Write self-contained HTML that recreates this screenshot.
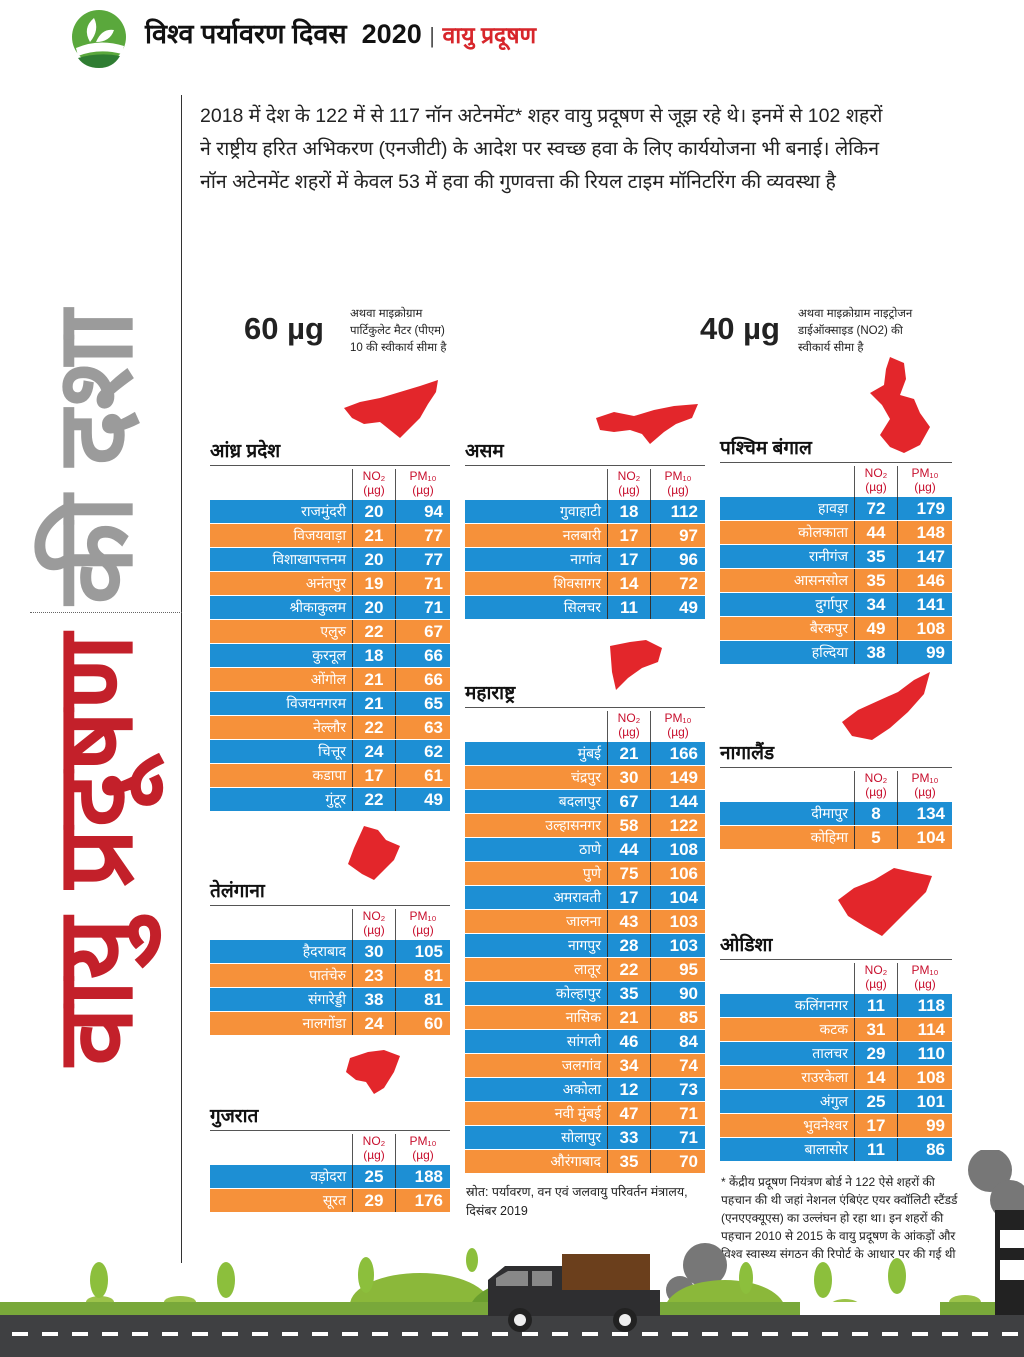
<!DOCTYPE html>
<html><head><meta charset="utf-8">
<style>
*{margin:0;padding:0;box-sizing:border-box}
body{width:1024px;height:1357px;position:relative;background:#fff;font-family:"Liberation Sans",sans-serif;overflow:hidden;color:#222}
.a{position:absolute}
.t{position:absolute;width:240px}
.ttl{height:26px;font-weight:bold;font-size:19px;line-height:24px;border-bottom:1px solid #555;color:#111}
.hd{height:34px;display:flex;color:#c8102e;font-size:12px;line-height:14px;text-align:center;padding-top:3px}
.hd div{border-left:1px solid #555}
.hd div:first-child{border-left:none}
.r{height:23px;margin-bottom:1px;display:flex;color:#fff;font-weight:bold}
.r div{line-height:23px;border-left:1px solid #333}
.r div:first-child{border-left:none;text-align:right;padding-right:6px;font-size:14px;font-weight:normal}
.r div:nth-child(2){text-align:center;font-size:17px}
.r div:nth-child(3){text-align:right;padding-right:7px;font-size:17px}
.b{background:#1d8fd4}.o{background:#f6913a}
.c1{width:142px}.c2{width:43px}.c3{width:55px}
.w .c1{width:134px}.w .c3{width:55px}.w{width:232px}
.map{position:absolute;fill:#e3262b}
</style></head><body>

<!-- header -->
<svg class="a" style="left:68px;top:8px" width="62" height="62" viewBox="0 0 62 62">
<circle cx="31" cy="29" r="27" fill="#5aa83c"/>
<path d="M8 40 Q31 30 56 38 L54 46 Q31 40 10 48Z" fill="#fff"/>
<path d="M10 50 Q31 44 52 48 Q45 60 31 60 Q17 60 10 50Z" fill="#2f7d32"/>
<path d="M22 34 Q14 20 26 10 Q32 22 22 34Z" fill="#fff"/>
<path d="M28 34 Q34 20 46 22 Q42 34 28 34Z" fill="#fff"/>
</svg>
<div class="a" style="left:145px;top:14px;font-size:27px;font-weight:bold;color:#111;white-space:nowrap">विश्व पर्यावरण दिवस&nbsp; 2020 <span style="font-weight:normal;color:#555;font-size:22px">|</span> <span style="color:#d7262b;font-size:23px">वायु प्रदूषण</span></div>

<div class="a" style="left:181px;top:95px;width:1px;height:1168px;background:#333"></div>
<div class="a" style="left:30px;top:612px;width:152px;border-top:1px dotted #666"></div>

<!-- vertical title -->
<div class="a" style="left:-355px;top:628px;width:900px;height:120px;transform:rotate(-90deg);transform-origin:center;font-size:106px;font-weight:bold;line-height:120px;white-space:nowrap;text-align:center"><span style="color:#c3202a">वायु प्रदूषण</span> <span style="color:#9b9b9b">की दशा</span></div>

<div class="a" style="left:200px;top:100px;width:800px;font-size:19.5px;line-height:33px;color:#222;white-space:nowrap">2018 में देश के 122 में से 117 नॉन अटेनमेंट* शहर वायु प्रदूषण से जूझ रहे थे। इनमें से 102 शहरों<br>ने राष्ट्रीय हरित अभिकरण (एनजीटी) के आदेश पर स्वच्छ हवा के लिए कार्ययोजना भी बनाई। लेकिन<br>नॉन अटेनमेंट शहरों में केवल 53 में हवा की गुणवत्ता की रियल टाइम मॉनिटरिंग की व्यवस्था है</div>

<div class="a" style="left:244px;top:311px;font-size:31px;font-weight:bold">60 µg</div>
<div class="a" style="left:350px;top:306px;font-size:11.5px;line-height:17px;white-space:nowrap">अथवा माइक्रोग्राम<br>पार्टिकुलेट मैटर (पीएम)<br>10 की स्वीकार्य सीमा है</div>
<div class="a" style="left:700px;top:311px;font-size:31px;font-weight:bold">40 µg</div>
<div class="a" style="left:798px;top:306px;font-size:11.5px;line-height:17px;white-space:nowrap">अथवा माइक्रोग्राम नाइट्रोजन<br>डाईऑक्साइड (NO2) की<br>स्वीकार्य सीमा है</div>

<!-- maps -->
<svg class="map" style="left:340px;top:378px" width="100" height="62"><path d="M98 2 L80 8 L60 14 L40 20 L20 24 L4 30 L12 40 L24 46 L40 44 L50 52 L60 60 L70 50 L80 40 L88 26 L96 14Z"/></svg>
<svg class="map" style="left:594px;top:402px" width="108" height="44"><path d="M2 16 L20 10 L40 14 L60 8 L80 4 L104 2 L98 16 L82 22 L70 30 L56 42 L48 32 L36 28 L20 30 L6 28Z"/></svg>
<svg class="map" style="left:860px;top:355px" width="72" height="100"><path d="M30 2 L44 8 L46 24 L40 40 L54 44 L60 58 L70 72 L60 90 L44 98 L30 92 L20 80 L30 64 L22 50 L10 38 L24 30 L26 14Z"/></svg>
<svg class="map" style="left:606px;top:638px" width="60" height="54"><path d="M4 8 L24 4 L40 2 L56 10 L52 24 L36 30 L22 40 L10 52 L6 34Z"/></svg>
<svg class="map" style="left:344px;top:824px" width="58" height="58"><path d="M20 2 L34 6 L42 16 L56 22 L50 36 L40 46 L30 56 L18 50 L4 40 L10 24Z"/></svg>
<svg class="map" style="left:344px;top:1048px" width="58" height="48"><path d="M6 10 L24 4 L40 2 L56 8 L50 24 L40 40 L30 46 L22 34 L12 32 L2 24Z"/></svg>
<svg class="map" style="left:838px;top:670px" width="94" height="72"><path d="M92 2 L76 10 L60 22 L42 30 L20 40 L4 52 L14 66 L34 70 L52 58 L70 42 L86 24Z"/></svg>
<svg class="map" style="left:834px;top:866px" width="102" height="72"><path d="M60 2 L78 6 L98 10 L92 26 L78 40 L62 56 L48 70 L30 60 L14 50 L4 34 L20 22 L40 14Z"/></svg>

<!-- Andhra -->
<div class="t" style="left:210px;top:440px"><div class="ttl">आंध्र प्रदेश</div>
<div class="hd"><div class="c1"></div><div class="c2">NO₂<br>(µg)</div><div class="c3">PM₁₀<br>(µg)</div></div>
<div class="r b"><div class="c1">राजमुंदरी</div><div class="c2">20</div><div class="c3">94</div></div>
<div class="r o"><div class="c1">विजयवाड़ा</div><div class="c2">21</div><div class="c3">77</div></div>
<div class="r b"><div class="c1">विशाखापत्तनम</div><div class="c2">20</div><div class="c3">77</div></div>
<div class="r o"><div class="c1">अनंतपुर</div><div class="c2">19</div><div class="c3">71</div></div>
<div class="r b"><div class="c1">श्रीकाकुलम</div><div class="c2">20</div><div class="c3">71</div></div>
<div class="r o"><div class="c1">एलुरु</div><div class="c2">22</div><div class="c3">67</div></div>
<div class="r b"><div class="c1">कुरनूल</div><div class="c2">18</div><div class="c3">66</div></div>
<div class="r o"><div class="c1">ओंगोल</div><div class="c2">21</div><div class="c3">66</div></div>
<div class="r b"><div class="c1">विजयनगरम</div><div class="c2">21</div><div class="c3">65</div></div>
<div class="r o"><div class="c1">नेल्लौर</div><div class="c2">22</div><div class="c3">63</div></div>
<div class="r b"><div class="c1">चित्तूर</div><div class="c2">24</div><div class="c3">62</div></div>
<div class="r o"><div class="c1">कडापा</div><div class="c2">17</div><div class="c3">61</div></div>
<div class="r b"><div class="c1">गुंटूर</div><div class="c2">22</div><div class="c3">49</div></div>
</div>

<!-- Telangana -->
<div class="t" style="left:210px;top:880px"><div class="ttl">तेलंगाना</div>
<div class="hd"><div class="c1"></div><div class="c2">NO₂<br>(µg)</div><div class="c3">PM₁₀<br>(µg)</div></div>
<div class="r b"><div class="c1">हैदराबाद</div><div class="c2">30</div><div class="c3">105</div></div>
<div class="r o"><div class="c1">पातंचेरु</div><div class="c2">23</div><div class="c3">81</div></div>
<div class="r b"><div class="c1">संगारेड्डी</div><div class="c2">38</div><div class="c3">81</div></div>
<div class="r o"><div class="c1">नालगोंडा</div><div class="c2">24</div><div class="c3">60</div></div>
</div>

<!-- Gujarat -->
<div class="t" style="left:210px;top:1105px"><div class="ttl">गुजरात</div>
<div class="hd"><div class="c1"></div><div class="c2">NO₂<br>(µg)</div><div class="c3">PM₁₀<br>(µg)</div></div>
<div class="r b"><div class="c1">वड़ोदरा</div><div class="c2">25</div><div class="c3">188</div></div>
<div class="r o"><div class="c1">सूरत</div><div class="c2">29</div><div class="c3">176</div></div>
</div>

<!-- Assam -->
<div class="t" style="left:465px;top:440px"><div class="ttl">असम</div>
<div class="hd"><div class="c1"></div><div class="c2">NO₂<br>(µg)</div><div class="c3">PM₁₀<br>(µg)</div></div>
<div class="r b"><div class="c1">गुवाहाटी</div><div class="c2">18</div><div class="c3">112</div></div>
<div class="r o"><div class="c1">नलबारी</div><div class="c2">17</div><div class="c3">97</div></div>
<div class="r b"><div class="c1">नागांव</div><div class="c2">17</div><div class="c3">96</div></div>
<div class="r o"><div class="c1">शिवसागर</div><div class="c2">14</div><div class="c3">72</div></div>
<div class="r b"><div class="c1">सिलचर</div><div class="c2">11</div><div class="c3">49</div></div>
</div>

<!-- Maharashtra -->
<div class="t" style="left:465px;top:682px"><div class="ttl">महाराष्ट्र</div>
<div class="hd"><div class="c1"></div><div class="c2">NO₂<br>(µg)</div><div class="c3">PM₁₀<br>(µg)</div></div>
<div class="r b"><div class="c1">मुंबई</div><div class="c2">21</div><div class="c3">166</div></div>
<div class="r o"><div class="c1">चंद्रपुर</div><div class="c2">30</div><div class="c3">149</div></div>
<div class="r b"><div class="c1">बदलापुर</div><div class="c2">67</div><div class="c3">144</div></div>
<div class="r o"><div class="c1">उल्हासनगर</div><div class="c2">58</div><div class="c3">122</div></div>
<div class="r b"><div class="c1">ठाणे</div><div class="c2">44</div><div class="c3">108</div></div>
<div class="r o"><div class="c1">पुणे</div><div class="c2">75</div><div class="c3">106</div></div>
<div class="r b"><div class="c1">अमरावती</div><div class="c2">17</div><div class="c3">104</div></div>
<div class="r o"><div class="c1">जालना</div><div class="c2">43</div><div class="c3">103</div></div>
<div class="r b"><div class="c1">नागपुर</div><div class="c2">28</div><div class="c3">103</div></div>
<div class="r o"><div class="c1">लातूर</div><div class="c2">22</div><div class="c3">95</div></div>
<div class="r b"><div class="c1">कोल्हापुर</div><div class="c2">35</div><div class="c3">90</div></div>
<div class="r o"><div class="c1">नासिक</div><div class="c2">21</div><div class="c3">85</div></div>
<div class="r b"><div class="c1">सांगली</div><div class="c2">46</div><div class="c3">84</div></div>
<div class="r o"><div class="c1">जलगांव</div><div class="c2">34</div><div class="c3">74</div></div>
<div class="r b"><div class="c1">अकोला</div><div class="c2">12</div><div class="c3">73</div></div>
<div class="r o"><div class="c1">नवी मुंबई</div><div class="c2">47</div><div class="c3">71</div></div>
<div class="r b"><div class="c1">सोलापुर</div><div class="c2">33</div><div class="c3">71</div></div>
<div class="r o"><div class="c1">औरंगाबाद</div><div class="c2">35</div><div class="c3">70</div></div>
</div>
<div class="a" style="left:466px;top:1183px;width:240px;font-size:12.5px;line-height:19px">स्रोत: पर्यावरण, वन एवं जलवायु परिवर्तन मंत्रालय, दिसंबर 2019</div>

<!-- West Bengal -->
<div class="t w" style="left:720px;top:437px"><div class="ttl">पश्चिम बंगाल</div>
<div class="hd"><div class="c1"></div><div class="c2">NO₂<br>(µg)</div><div class="c3">PM₁₀<br>(µg)</div></div>
<div class="r b"><div class="c1">हावड़ा</div><div class="c2">72</div><div class="c3">179</div></div>
<div class="r o"><div class="c1">कोलकाता</div><div class="c2">44</div><div class="c3">148</div></div>
<div class="r b"><div class="c1">रानीगंज</div><div class="c2">35</div><div class="c3">147</div></div>
<div class="r o"><div class="c1">आसनसोल</div><div class="c2">35</div><div class="c3">146</div></div>
<div class="r b"><div class="c1">दुर्गापुर</div><div class="c2">34</div><div class="c3">141</div></div>
<div class="r o"><div class="c1">बैरकपुर</div><div class="c2">49</div><div class="c3">108</div></div>
<div class="r b"><div class="c1">हल्दिया</div><div class="c2">38</div><div class="c3">99</div></div>
</div>

<!-- Nagaland -->
<div class="t w" style="left:720px;top:742px"><div class="ttl">नागालैंड</div>
<div class="hd"><div class="c1"></div><div class="c2">NO₂<br>(µg)</div><div class="c3">PM₁₀<br>(µg)</div></div>
<div class="r b"><div class="c1">दीमापुर</div><div class="c2">8</div><div class="c3">134</div></div>
<div class="r o"><div class="c1">कोहिमा</div><div class="c2">5</div><div class="c3">104</div></div>
</div>

<!-- Odisha -->
<div class="t w" style="left:720px;top:934px"><div class="ttl">ओडिशा</div>
<div class="hd"><div class="c1"></div><div class="c2">NO₂<br>(µg)</div><div class="c3">PM₁₀<br>(µg)</div></div>
<div class="r b"><div class="c1">कलिंगनगर</div><div class="c2">11</div><div class="c3">118</div></div>
<div class="r o"><div class="c1">कटक</div><div class="c2">31</div><div class="c3">114</div></div>
<div class="r b"><div class="c1">तालचर</div><div class="c2">29</div><div class="c3">110</div></div>
<div class="r o"><div class="c1">राउरकेला</div><div class="c2">14</div><div class="c3">108</div></div>
<div class="r b"><div class="c1">अंगुल</div><div class="c2">25</div><div class="c3">101</div></div>
<div class="r o"><div class="c1">भुवनेश्वर</div><div class="c2">17</div><div class="c3">99</div></div>
<div class="r b"><div class="c1">बालासोर</div><div class="c2">11</div><div class="c3">86</div></div>
</div>
<div class="a" style="left:721px;top:1173px;width:240px;font-size:12px;line-height:18px">* केंद्रीय प्रदूषण नियंत्रण बोर्ड ने 122 ऐसे शहरों की पहचान की थी जहां नेशनल एंबिएंट एयर क्वॉलिटी स्टैंडर्ड (एनएएक्यूएस) का उल्लंघन हो रहा था। इन शहरों की पहचान 2010 से 2015 के वायु प्रदूषण के आंकड़ों और विश्व स्वास्थ्य संगठन की रिपोर्ट के आधार पर की गई थी</div>

<!-- bottom scene -->
<svg class="a" style="left:0;top:1150px" width="1024" height="207" viewBox="0 0 1024 207">
<circle cx="990" cy="20" r="22" fill="#777"/><circle cx="1010" cy="50" r="20" fill="#777"/>
<circle cx="705" cy="115" r="22" fill="#777"/><circle cx="680" cy="140" r="14" fill="#777"/>
<ellipse cx="420" cy="155" rx="70" ry="32" fill="#8bb83a"/>
<ellipse cx="530" cy="160" rx="60" ry="30" fill="#6a9e2e"/>
<ellipse cx="725" cy="160" rx="60" ry="30" fill="#8bb83a"/>
<ellipse cx="100" cy="152" rx="14" ry="6" fill="#9cc34a"/><ellipse cx="180" cy="152" rx="16" ry="6" fill="#9cc34a"/>
<ellipse cx="845" cy="155" rx="14" ry="6" fill="#9cc34a"/><ellipse cx="965" cy="152" rx="16" ry="7" fill="#9cc34a"/>
<g fill="#8cbf3c"><ellipse cx="99" cy="130" rx="9" ry="18"/><ellipse cx="226" cy="130" rx="9" ry="18"/><ellipse cx="366" cy="125" rx="8" ry="18"/><ellipse cx="823" cy="130" rx="9" ry="18"/><ellipse cx="897" cy="126" rx="9" ry="18"/><ellipse cx="746" cy="128" rx="7" ry="16"/><ellipse cx="472" cy="110" rx="6" ry="12"/></g>
<rect x="0" y="152" width="1024" height="14" fill="#79a83a"/>
<rect x="800" y="152" width="140" height="14" fill="#fff"/>
<rect x="0" y="165" width="1024" height="42" fill="#3f4042"/>
<g fill="#fff"><rect x="12" y="182" width="16" height="4"/><rect x="42" y="182" width="16" height="4"/><rect x="72" y="182" width="16" height="4"/><rect x="102" y="182" width="16" height="4"/><rect x="132" y="182" width="16" height="4"/><rect x="162" y="182" width="16" height="4"/><rect x="192" y="182" width="16" height="4"/><rect x="222" y="182" width="16" height="4"/><rect x="252" y="182" width="16" height="4"/><rect x="282" y="182" width="16" height="4"/><rect x="312" y="182" width="16" height="4"/><rect x="342" y="182" width="16" height="4"/><rect x="372" y="182" width="16" height="4"/><rect x="402" y="182" width="16" height="4"/><rect x="432" y="182" width="16" height="4"/><rect x="462" y="182" width="16" height="4"/><rect x="492" y="182" width="16" height="4"/><rect x="522" y="182" width="16" height="4"/><rect x="552" y="182" width="16" height="4"/><rect x="582" y="182" width="16" height="4"/><rect x="612" y="182" width="16" height="4"/><rect x="642" y="182" width="16" height="4"/><rect x="672" y="182" width="16" height="4"/><rect x="702" y="182" width="16" height="4"/><rect x="732" y="182" width="16" height="4"/><rect x="762" y="182" width="16" height="4"/><rect x="792" y="182" width="16" height="4"/><rect x="822" y="182" width="16" height="4"/><rect x="852" y="182" width="16" height="4"/><rect x="882" y="182" width="16" height="4"/><rect x="912" y="182" width="16" height="4"/><rect x="942" y="182" width="16" height="4"/><rect x="972" y="182" width="16" height="4"/><rect x="1002" y="182" width="16" height="4"/></g>
<rect x="562" y="104" width="88" height="52" fill="#6b3f1c"/>
<path d="M488 156 L488 130 L505 116 L562 116 L562 140 L660 140 L660 166 L488 166Z" fill="#2e2e30"/>
<path d="M496 128 L508 121 L528 121 L528 136 L496 136Z" fill="#888"/><rect x="532" y="121" width="20" height="15" fill="#888"/>
<circle cx="520" cy="170" r="12" fill="#222"/><circle cx="520" cy="170" r="6" fill="#eee"/>
<circle cx="625" cy="170" r="12" fill="#222"/><circle cx="625" cy="170" r="6" fill="#eee"/>
<rect x="995" y="60" width="29" height="105" fill="#222"/><rect x="1000" y="80" width="24" height="18" fill="#fff"/><rect x="1000" y="110" width="24" height="20" fill="#fff"/>
</svg>
</body></html>
